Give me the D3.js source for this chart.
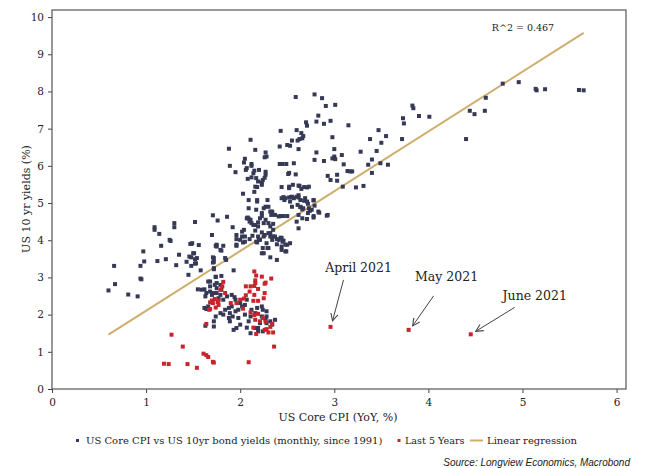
<!DOCTYPE html>
<html>
<head>
<meta charset="utf-8">
<script src="https://cdn.jsdelivr.net/npm/d3@7/dist/d3.min.js"></script>
<style>
  body { margin: 0; background: #fff; }
  text { font-family: "DejaVu Serif", "Liberation Serif", serif; fill: #222; }
</style>
</head>
<body>
<div id="chart"></div>
<script>
// values
var xTicks = [0, 1, 2, 3, 4, 5, 6];
var yTicks = [0, 1, 2, 3, 4, 5, 6, 7, 8, 9, 10];

// US Core CPI YoY (x) vs US 10yr yield (y), monthly since 1991
var coreVsYields = [
  [0.60,2.65],[0.66,3.31],[0.67,2.82],[0.81,2.54],[0.91,2.49],[0.94,3.31],[0.94,2.97],[0.95,2.95],[0.97,3.70],[0.98,3.43],
  [1.09,4.35],[1.09,4.28],[1.14,4.17],[1.12,3.44],[1.16,3.85],[1.21,3.49],[1.25,4.01],[1.26,3.98],[1.30,4.46],[1.30,4.35],
  [1.32,3.33],[1.35,3.61],[1.43,3.42],[1.47,3.90],[1.45,3.07],[1.48,3.54],[1.51,3.65],[1.52,4.49],[1.52,3.49],[1.53,3.38],
  [1.56,3.87],[1.58,3.19],[1.55,2.68],[1.62,2.68],[1.71,4.67],[1.70,4.14],[1.71,3.54],[1.72,3.42],[1.72,3.22],[1.74,3.01],
  [1.68,2.89],[1.62,2.18],[1.64,2.15],[1.63,1.70],[1.72,1.68],[1.75,3.83],[1.76,4.53],[1.70,2.53],[1.74,1.95],
  [1.46,3.56],[1.48,3.31],[1.50,3.65],[1.52,3.37],[1.54,3.52],[1.49,3.92],[1.72,3.52],[1.71,3.40],[1.72,3.25],[1.79,3.74],
  [1.74,3.85],[1.82,3.85],[1.84,3.52],[1.93,3.19],[1.96,3.85],[2.03,3.94],[2.25,3.65],[2.30,3.79],[2.32,3.54],[2.39,3.47],
  [2.44,3.83],[2.48,3.70],[2.50,3.88],[2.45,3.96],[1.59,2.67],[1.66,2.89],[1.68,2.76],[1.73,2.80],[1.75,2.71],[2.18,2.18],
  [2.24,2.13],[2.28,2.09],[2.21,1.77],[2.19,1.64],[2.07,1.65],
  [1.80,3.72],[1.85,3.47],[1.74,3.02],[1.80,3.04],[1.75,2.85],[1.79,2.80],[1.80,2.67],[1.64,2.58],[1.68,2.62],[1.72,2.58],
  [1.75,2.58],[1.79,2.53],[1.63,2.49],[1.77,2.44],[1.66,2.22],[1.82,2.40],[1.86,2.49],[1.91,2.53],[1.94,2.47],[1.95,2.40],
  [2.00,2.31],[2.07,2.40],[2.05,2.26],[2.02,2.22],[1.98,2.13],[1.91,2.22],[1.88,2.18],[1.84,2.13],[1.89,2.04],[1.95,2.09],
  [1.92,1.95],[1.88,1.91],[1.89,1.82],[1.98,1.91],[2.00,1.73],[1.93,1.59],[1.96,1.64],[1.72,1.82],[1.79,2.04],[1.82,2.00],
  [2.23,2.22],[2.16,2.04],[2.23,1.95],[2.27,1.86],[2.28,1.77],[2.32,1.82],[2.28,1.95],[2.12,2.13],[2.11,1.95],[2.05,2.00],
  [2.09,1.82],[2.11,1.50],[2.16,1.64],[2.19,1.55],[2.24,1.55],[2.34,1.73],[2.37,1.86],
  [2.43,6.94],[2.11,6.70],[2.16,6.43],[1.88,6.46],[2.42,6.52],[2.50,6.56],[2.27,6.36],[2.28,6.25],[2.26,6.23],[2.05,6.19],
  [2.12,6.05],[1.89,6.00],[2.07,5.94],[2.06,5.89],[1.95,5.83],[2.15,5.87],[2.42,6.05],[2.45,6.05],[2.49,6.05],[2.27,5.84],
  [2.27,5.76],[2.26,5.68],[2.24,5.62],[2.23,5.55],[2.23,5.49],[2.08,5.65],[2.12,5.69],[2.19,5.58],[2.18,5.43],[2.03,5.25],
  [2.15,5.30],[2.18,5.08],[2.25,4.86],[2.27,4.90],[2.29,5.08],[2.09,4.86],[2.17,4.82],[2.34,4.73],[2.33,4.68],[2.43,4.65],
  [2.46,4.65],[2.50,4.65],[2.44,5.13],[2.47,5.08],[2.48,5.13],[2.52,5.40],[2.51,5.78],[2.07,4.59],[2.09,4.58],[2.11,4.55],
  [2.10,4.50],[2.23,4.65],[2.25,4.46],[2.19,4.48],[2.14,4.41],[2.32,4.37],[2.35,4.44],[1.86,4.63],[1.92,4.35],[2.02,4.23],
  [1.96,4.14],[1.96,4.03],[1.96,3.88],[2.05,4.10],[2.10,4.03],[2.13,4.12],[2.16,4.26],[2.20,4.01],[2.18,3.94],[2.23,4.21],
  [2.25,4.10],[2.28,3.92],[2.32,4.19],[2.35,4.10],[2.34,4.01],[2.39,4.03],[2.43,4.07],[2.46,3.99],[2.48,3.88],[1.48,3.90],
  [2.62,5.47],[2.65,5.38],[2.71,5.42],[2.52,5.15],[2.55,5.17],[2.57,5.13],[2.62,5.15],[2.64,5.08],[2.69,5.13],[2.71,5.04],
  [2.78,5.08],[2.67,4.86],[2.64,4.90],[2.55,4.90],[2.73,4.86],[2.79,4.93],[2.74,4.79],[2.83,4.77],[2.92,4.66],[2.78,4.61],
  [2.71,4.57],[2.66,4.59],[2.62,4.68],[2.60,4.50],[2.62,4.32],[2.18,5.04],[2.23,4.73],[2.30,4.90],[2.08,4.61],[2.12,4.46],
  [2.21,4.59],[2.27,4.55],[2.16,4.41],[2.19,4.37],[2.30,4.46],[2.34,4.77],[2.41,4.64],[2.35,4.28],[2.30,4.19],[2.26,4.14],
  [2.19,4.10],[2.21,4.01],[2.17,3.96],[2.04,4.28],[2.02,4.10],[2.00,4.01],[2.05,3.96],[1.75,3.88],[2.24,3.79],[2.29,3.79],
  [2.32,4.10],[2.37,4.10],[2.41,4.01],[2.44,4.06],[2.39,3.89],[2.44,3.74],[2.49,3.70],[2.23,3.65],[2.53,3.92],
  [2.59,7.85],[2.79,7.92],[2.87,7.82],[2.91,7.61],[3.01,7.64],[2.83,7.35],[2.70,7.17],[2.71,7.08],[2.81,7.19],[2.89,7.13],
  [2.96,7.21],[3.15,7.09],[2.60,6.96],[2.65,6.88],[2.67,6.80],[2.66,6.74],[2.63,6.72],[2.61,6.68],[2.55,6.68],[2.53,6.54],
  [2.62,6.45],[2.98,6.77],[3.00,6.45],[3.00,6.25],[2.98,6.20],[3.01,6.18],[3.08,6.29],[3.10,6.04],[3.14,5.86],[3.17,5.85],
  [3.19,5.85],[3.28,6.38],[3.38,6.72],[3.47,6.96],[3.50,6.62],[3.55,6.80],[3.45,6.40],[3.40,6.17],[3.36,6.03],[3.40,5.81],
  [3.49,6.07],[3.57,6.03],[3.73,7.28],[3.74,7.14],[3.72,6.72],[3.83,7.62],[3.84,7.55],[3.90,7.34],[4.01,7.32],[3.23,5.42],
  [3.31,5.46],[3.09,5.44],[2.93,5.73],[2.96,5.62],[3.03,5.76],[3.03,5.60],[2.79,6.16],[2.89,6.13],[2.81,6.36],[2.57,6.07],
  [2.52,5.81],[2.59,5.77],[2.56,5.49],[2.63,5.46],[2.68,5.43],[2.73,5.44],[2.44,5.43],[2.52,5.44],[2.46,5.16],[2.54,5.16],
  [2.60,5.17],[2.62,5.21],[2.53,5.04],[2.61,4.95],[2.64,4.89],[2.66,4.83],[2.68,5.06],[2.72,4.98],[2.78,5.07],[2.84,4.74],
  [2.76,4.82],[2.72,4.73],[2.93,4.68],[2.78,4.65],[2.32,4.77],[2.37,4.68],[2.04,6.09],[2.12,6.00],[2.14,5.80],[2.17,5.67],
  [2.20,5.89],[2.16,5.44],[2.09,5.08],
  [4.79,8.21],[4.96,8.25],[5.14,8.07],[5.15,8.03],[5.24,8.06],[5.60,8.04],[5.65,8.03],[4.61,7.83],[4.44,7.48],[4.49,7.39],
  [4.60,7.48],[4.40,6.72]
];

// last 5 years, highlighted in red
var last5Years = [
  [1.27,1.46],[1.39,1.14],[1.19,0.68],[1.24,0.67],[1.44,0.67],[1.54,0.57],[1.61,0.95],[1.64,0.91],[1.66,0.86],[1.71,0.73],
  [1.72,0.71],[2.09,0.72],[2.36,1.14],[1.64,1.75],[1.67,2.13],[1.68,2.33],[1.70,2.38],
  [2.15,3.16],[2.17,3.05],[2.23,3.02],[2.33,2.97],[2.27,2.86],[2.26,2.83],[2.16,2.92],[2.16,2.85],[2.15,2.77],[2.06,2.76],
  [2.11,2.76],[2.10,2.62],[2.06,2.52],[2.15,2.53],[2.19,2.69],[2.26,2.58],[2.14,2.37],[2.19,2.37],[2.25,2.44],[2.04,2.43],
  [2.00,2.40],[1.96,2.31],[1.90,2.31],[1.73,2.42],[1.76,2.34],[1.77,2.38],[1.71,2.31],[1.79,2.67],[1.82,2.88],[1.68,2.15],
  [1.77,2.26],[2.03,2.16],[2.11,2.06],[2.15,1.99],[2.16,1.86],[2.19,2.02],[2.21,1.82],[2.24,1.91],[2.27,1.81],[2.26,1.59],
  [2.28,1.61],[2.32,1.67],[2.34,1.75],[2.35,1.52],[2.30,1.52],[2.17,1.48],[2.14,1.65],[1.81,2.76],[1.84,2.58],[1.74,2.19],
  [2.96,1.67],[3.79,1.59],[4.45,1.47]
];

// linear regression: y = a + b*x, drawn over the x range of the data
var regressionCoef = [0.496, 1.607];
var regressionX = [0.6, 5.65];
var rSquared = 0.467;

var annotationLabels = ["April 2021", "May 2021", "June 2021"];
var annotationPoints = [[2.96, 1.67], [3.79, 1.59], [4.45, 1.47]];
// label position and arrow start relative to the point (px)
var annotationLayout = [
  { tx: 28, ty: -55, ax: 13, ay: -47, ex: 2, ey: -6 },
  { tx: 38, ty: -49, ax: 25, ay: -34, ex: 4, ey: -4 },
  { tx: 64, ty: -34, ax: 44, ay: -27, ex: 5, ey: -3 }
];

var legendLabels = ["US Core CPI vs US 10yr bond yields (monthly, since 1991)", "Last 5 Years", "Linear regression"];

var navy = "#363955", red = "#c8242b", gold = "#cfae6c";

var width = 645, height = 468;
var margin = { left: 52, right: 19, top: 10, bottom: 79 };

var svg = d3.select("#chart").append("svg")
  .attr("width", width)
  .attr("height", height);

var x = d3.scaleLinear().domain([0, 6.1]).range([margin.left, width - margin.right]);
var y = d3.scaleLinear().domain([0, 10.19]).range([height - margin.bottom, margin.top]);

// axes
var xAxis = svg.append("g")
  .attr("transform", "translate(0," + y(0) + ")")
  .call(d3.axisBottom(x).tickValues(xTicks).tickSize(4).tickPadding(6).tickFormat(d3.format("d")));
var yAxis = svg.append("g")
  .attr("transform", "translate(" + x(0) + ",0)")
  .call(d3.axisLeft(y).tickValues(yTicks).tickSize(4).tickPadding(4).tickFormat(d3.format("d")));
[xAxis, yAxis].forEach(function(g) {
  g.select(".domain").remove();
  g.selectAll(".tick line").attr("stroke", "#444");
  g.selectAll(".tick text").attr("font-size", 10.5).attr("fill", "#333")
    .style("font-family", '"DejaVu Serif", serif');
});

// frame
svg.append("rect")
  .attr("x", x(0)).attr("y", y(10.19))
  .attr("width", x(6.1) - x(0)).attr("height", y(0) - y(10.19))
  .attr("fill", "none").attr("stroke", "#555").attr("stroke-width", 1.2);

// regression line
svg.append("line")
  .attr("x1", x(regressionX[0])).attr("y1", y(regressionCoef[0] + regressionCoef[1] * regressionX[0]))
  .attr("x2", x(regressionX[1])).attr("y2", y(regressionCoef[0] + regressionCoef[1] * regressionX[1]))
  .attr("stroke", gold).attr("stroke-width", 2);

// scatter points
var s = 4;
svg.append("g").selectAll("rect")
  .data(coreVsYields)
  .enter()
  .append("rect")
  .attr("x", function(d) { return x(d[0]) - s / 2; })
  .attr("y", function(d) { return y(d[1]) - s / 2; })
  .attr("width", s).attr("height", s)
  .attr("fill", navy);

svg.append("g").selectAll("rect")
  .data(last5Years)
  .enter()
  .append("rect")
  .attr("x", function(d) { return x(d[0]) - s / 2; })
  .attr("y", function(d) { return y(d[1]) - s / 2; })
  .attr("width", s).attr("height", s)
  .attr("fill", red);

// R^2 label
svg.append("text")
  .attr("x", 523).attr("y", 31)
  .attr("text-anchor", "middle")
  .attr("font-size", 9.5)
  .text("R^2 = " + rSquared);

// annotations
svg.append("defs").append("marker")
  .attr("id", "arrow")
  .attr("viewBox", "0 0 10 10")
  .attr("refX", 9).attr("refY", 5)
  .attr("markerWidth", 9).attr("markerHeight", 9)
  .attr("orient", "auto")
  .append("path")
  .attr("d", "M1,1 L9,5 L1,9")
  .attr("fill", "none").attr("stroke", "#444").attr("stroke-width", 1.2);

annotationPoints.forEach(function(p, i) {
  var px = x(p[0]), py = y(p[1]), l = annotationLayout[i];
  svg.append("line")
    .attr("x1", px + l.ax).attr("y1", py + l.ay)
    .attr("x2", px + l.ex).attr("y2", py + l.ey)
    .attr("stroke", "#444").attr("stroke-width", 1)
    .attr("marker-end", "url(#arrow)");
  svg.append("text")
    .attr("x", px + l.tx).attr("y", py + l.ty)
    .attr("text-anchor", "middle")
    .attr("font-size", 12.5)
    .text(annotationLabels[i]);
});

// axis titles
svg.append("text")
  .attr("x", 338).attr("y", 421)
  .attr("text-anchor", "middle")
  .attr("font-size", 11)
  .text("US Core CPI (YoY, %)");
svg.append("text")
  .attr("transform", "translate(30,199) rotate(-90)")
  .attr("text-anchor", "middle")
  .attr("font-size", 11)
  .text("US 10 yr yields (%)");

// legend
var legend = svg.append("g").attr("font-size", 10);
legend.append("rect").attr("x", 76).attr("y", 439).attr("width", 3).attr("height", 3).attr("fill", navy);
legend.append("text").attr("x", 86).attr("y", 444).text(legendLabels[0]);
legend.append("rect").attr("x", 397.5).attr("y", 439).attr("width", 3).attr("height", 3).attr("fill", red);
legend.append("text").attr("x", 405).attr("y", 444).attr("font-size", 9.6).text(legendLabels[1]);
legend.append("line").attr("x1", 470).attr("x2", 483).attr("y1", 440.5).attr("y2", 440.5)
  .attr("stroke", gold).attr("stroke-width", 2);
legend.append("text").attr("x", 487).attr("y", 444).text(legendLabels[2]);

// source
svg.append("text")
  .attr("x", 630).attr("y", 466)
  .attr("text-anchor", "end")
  .attr("font-size", 10)
  .attr("font-style", "italic")
  .style("font-family", '"Liberation Sans", Arial, sans-serif')
  .attr("fill", "#333")
  .text("Source: Longview Economics, Macrobond");
</script>
</body>
</html>
